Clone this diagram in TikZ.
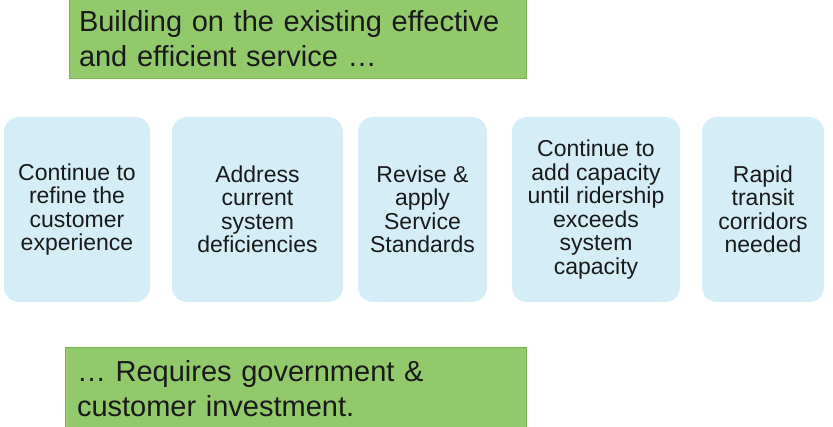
\documentclass[tikz,border=0pt]{standalone}
\usepackage{fontspec}
\setmainfont{Liberation Sans}
\usepackage{tikz}
\definecolor{leafgreen}{RGB}{146,201,106}
\definecolor{leafedge}{RGB}{122,180,86}
\definecolor{paleblue}{RGB}{212,237,247}
\definecolor{inkgray}{RGB}{26,26,26}

\begin{document}
\begin{tikzpicture}[x=1pt, y=1pt]
	\tikzset{
		banner/.style = {rectangle, fill=leafgreen, draw=leafedge, line width=1pt, text width=437pt, inner xsep=10pt, align=left, text=inkgray, font=\fontsize{29}{35}\selectfont},
		task/.style = {rectangle, rounded corners=15pt, fill=paleblue, minimum height=185pt, align=center, text=inkgray, font=\fontsize{23}{23.5}\selectfont}
	}
	\useasboundingbox (0,0) rectangle (833,427);
	\node[banner, minimum height=80pt] (build) at (297.5,388) {Building on the existing effective\\and efficient service …};
	\node[task, minimum width=146pt] (care) at (77,217.5) {Continue to\\refine the\\customer\\experience};
	\node[task, minimum width=171pt] (fix) at (257.5,217.5) {Address\\current\\system\\deficiencies};
	\node[task, minimum width=129pt] (standards) at (422.5,217.5) {Revise \&\\apply\\Service\\Standards};
	\node[task, minimum width=168pt] (capacity) at (596,217.5) {Continue to\\add capacity\\until ridership\\exceeds\\system\\capacity};
	\node[task, minimum width=122pt] (rapid) at (763,217.5) {Rapid\\transit\\corridors\\needed};
	\node[banner, inner xsep=12pt, minimum height=82pt] (invest) at (295.5,38) {… Requires government \&\\customer investment.};
\end{tikzpicture}
\end{document}
